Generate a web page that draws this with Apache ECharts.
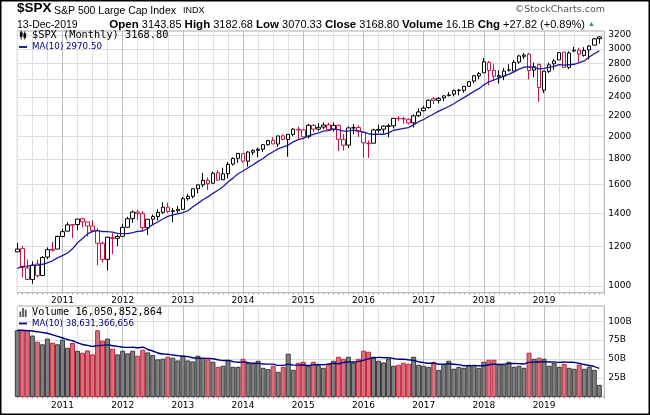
<!DOCTYPE html>
<html>
<head>
<meta charset="utf-8">
<title>$SPX monthly</title>
<script src="https://cdn.jsdelivr.net/npm/echarts@6.0.0/dist/echarts.min.js"></script>
<style>
  html, body { margin: 0; padding: 0; background: #fff; }
  #chart { width: 650px; height: 415px; }
</style>
</head>
<body>
<div id="chart"></div>
<script>
// monthly bars, Apr 2010 .. Dec 2019
var startYear = 2010, startMonth = 4;
var priorClose = 1169.43; // Mar 2010 close, used for the colour of the first bar

var opens = [
  1171.23, 1188.58, 1087.30, 1031.10, 1107.53, 1049.72, 1143.49, 1185.71, 1186.60,
  1257.62, 1289.14, 1328.64, 1329.48, 1365.21, 1345.20, 1320.64, 1292.59, 1219.12, 1131.21, 1251.00, 1246.91,
  1258.86, 1312.45, 1365.90, 1408.47, 1397.86, 1309.87, 1362.33, 1379.32, 1406.54, 1440.90, 1412.20, 1416.18,
  1426.19, 1498.11, 1514.68, 1569.18, 1597.55, 1631.71, 1609.78, 1689.42, 1635.95, 1682.41, 1758.70, 1806.55,
  1845.86, 1782.68, 1857.68, 1873.96, 1884.39, 1923.87, 1962.29, 1929.80, 2004.07, 1971.44, 2018.21, 2065.78,
  2058.90, 1996.67, 2105.23, 2067.63, 2087.38, 2108.64, 2067.00, 2104.49, 1970.09, 1919.65, 2080.76, 2082.93,
  2038.20, 1936.94, 1937.09, 2056.62, 2067.17, 2093.94, 2099.34, 2173.15, 2171.33, 2164.33, 2128.68, 2200.17,
  2251.57, 2285.59, 2380.13, 2362.34, 2388.50, 2415.65, 2431.39, 2477.10, 2474.42, 2521.20, 2583.21, 2645.10,
  2683.73, 2816.45, 2715.22, 2633.45, 2642.96, 2718.70, 2704.95, 2821.17, 2896.96, 2926.29, 2717.58, 2790.50,
  2476.96, 2702.32, 2798.22, 2848.63, 2952.33, 2751.53, 2971.41, 2980.32, 2909.01, 2983.69, 3050.72, 3143.85
];
var highs = [
  1219.80, 1205.13, 1131.23, 1120.95, 1129.24, 1148.90, 1196.14, 1227.08, 1262.60,
  1302.67, 1344.07, 1332.28, 1364.56, 1370.58, 1345.20, 1356.48, 1307.38, 1229.29, 1256.55, 1277.55, 1269.37,
  1333.47, 1378.04, 1419.15, 1422.38, 1415.32, 1363.46, 1391.74, 1426.68, 1474.51, 1470.96, 1434.27, 1448.00,
  1509.94, 1530.94, 1570.28, 1597.57, 1687.18, 1654.19, 1698.78, 1709.67, 1729.86, 1775.22, 1813.55, 1849.44,
  1850.84, 1867.92, 1883.97, 1897.28, 1924.03, 1968.17, 1991.39, 2005.04, 2019.26, 2018.19, 2075.76, 2093.55,
  2072.36, 2119.59, 2117.52, 2125.92, 2134.72, 2129.87, 2132.82, 2112.66, 2020.86, 2094.32, 2116.48, 2104.27,
  2038.20, 1962.96, 2072.21, 2111.05, 2103.48, 2120.55, 2177.09, 2193.81, 2187.87, 2169.60, 2214.10, 2277.53,
  2300.99, 2371.54, 2400.98, 2398.16, 2418.71, 2453.82, 2484.04, 2490.87, 2519.44, 2582.98, 2657.74, 2694.97,
  2872.87, 2835.96, 2801.90, 2717.49, 2742.24, 2791.47, 2848.03, 2916.50, 2940.91, 2939.86, 2815.15, 2800.18,
  2708.95, 2813.49, 2860.31, 2949.52, 2954.13, 2964.15, 3027.98, 3013.59, 3021.99, 3050.10, 3154.26, 3182.68
];
var lows = [
  1170.69, 1040.78, 1028.33, 1010.91, 1039.70, 1049.72, 1131.87, 1173.00, 1186.60,
  1257.62, 1289.14, 1249.05, 1294.70, 1311.80, 1258.07, 1282.86, 1101.54, 1114.22, 1074.77, 1158.66, 1202.37,
  1258.86, 1312.45, 1340.03, 1357.38, 1291.98, 1266.74, 1325.41, 1354.65, 1396.56, 1403.28, 1343.35, 1398.11,
  1426.19, 1485.01, 1501.48, 1536.03, 1581.28, 1560.33, 1604.57, 1627.47, 1633.41, 1646.47, 1746.20, 1767.99,
  1770.45, 1737.92, 1834.44, 1814.36, 1859.79, 1915.98, 1930.67, 1904.78, 1964.04, 1820.66, 2001.01, 1972.56,
  1988.12, 1980.90, 2039.69, 2048.38, 2067.93, 2056.32, 2044.02, 1867.01, 1871.91, 1893.70, 2019.39, 1993.26,
  1812.29, 1810.10, 1937.09, 2033.80, 2025.91, 1991.68, 2074.02, 2147.58, 2119.12, 2114.72, 2083.79, 2187.44,
  2245.13, 2271.65, 2322.25, 2328.95, 2352.72, 2405.70, 2407.70, 2417.35, 2446.55, 2520.40, 2557.45, 2605.52,
  2682.36, 2532.69, 2585.89, 2553.80, 2594.62, 2698.95, 2698.95, 2796.34, 2864.12, 2603.54, 2631.09, 2346.58,
  2443.96, 2681.83, 2722.27, 2848.63, 2750.52, 2728.81, 2952.22, 2822.12, 2891.85, 2855.94, 3050.72, 3070.33
];
var closes = [
  1186.69, 1089.41, 1030.71, 1101.60, 1049.33, 1141.20, 1183.26, 1180.55, 1257.64,
  1286.12, 1327.22, 1325.83, 1363.61, 1345.20, 1320.64, 1292.28, 1218.89, 1131.42, 1253.30, 1246.96, 1257.60,
  1312.41, 1365.68, 1408.47, 1397.91, 1310.33, 1362.16, 1379.32, 1406.58, 1440.67, 1412.16, 1416.18, 1426.19,
  1498.11, 1514.68, 1569.19, 1597.57, 1630.74, 1606.28, 1685.73, 1632.97, 1681.55, 1756.54, 1805.81, 1848.36,
  1782.59, 1859.45, 1872.34, 1883.95, 1923.57, 1960.23, 1930.67, 2003.37, 1972.29, 2018.05, 2067.56, 2058.90,
  1994.99, 2104.50, 2067.89, 2085.51, 2107.39, 2063.11, 2103.84, 1972.18, 1920.03, 2079.36, 2080.41, 2043.94,
  1940.24, 1932.23, 2059.74, 2065.30, 2096.95, 2098.86, 2173.60, 2170.95, 2168.27, 2126.15, 2198.81, 2238.83,
  2278.87, 2363.64, 2362.72, 2384.20, 2411.80, 2423.41, 2470.30, 2471.65, 2519.36, 2575.26, 2647.58, 2673.61,
  2823.81, 2713.83, 2640.87, 2648.05, 2705.27, 2718.37, 2816.29, 2901.52, 2913.98, 2711.74, 2760.17, 2506.85,
  2704.10, 2784.49, 2834.40, 2945.83, 2752.06, 2941.76, 2980.38, 2926.46, 2976.74, 3037.56, 3140.98, 3168.80
];
var priceMa = [
  1085, 1095, 1096, 1100, 1102, 1106, 1113, 1124, 1139,
  1151, 1165, 1188, 1222, 1246, 1273, 1288, 1292, 1287, 1286, 1283, 1276,
  1274, 1274, 1281, 1288, 1290, 1305, 1329, 1345, 1364, 1380, 1390, 1396,
  1405, 1417, 1443, 1466, 1491, 1511, 1536, 1558, 1584, 1618, 1648, 1682,
  1703, 1729, 1753, 1781, 1805, 1838, 1862, 1887, 1904, 1921, 1949, 1969,
  1981, 2004, 2018, 2031, 2048, 2054, 2067, 2063, 2048, 2050, 2058, 2052,
  2040, 2024, 2019, 2020, 2019, 2032, 2057, 2066, 2075, 2083, 2109, 2140,
  2162, 2192, 2218, 2247, 2271, 2296, 2326, 2361, 2393, 2426, 2463, 2494,
  2540, 2573, 2596, 2619, 2642, 2667, 2696, 2729, 2756, 2759, 2753, 2732,
  2739, 2752, 2765, 2788, 2782, 2786, 2792, 2814, 2835, 2888, 2932, 2971
];
// volume in billions
var volumes = [
  88, 88, 88, 81, 73, 69.5, 77, 71.7, 69.5,
  75.7, 65, 71.2, 61, 58.4, 61.5, 56.2, 88, 74.3, 77, 63.7, 56.2,
  61, 57.5, 61, 54.4, 62.4, 58.8, 55.3, 49.6, 50.5, 53.1, 51.8, 48.2,
  54.4, 48.2, 46.9, 54.4, 51.8, 49.6, 46.5, 39.8, 41.2, 49.1, 39.8, 39.8,
  50.4, 44.7, 44.7, 47.8, 38.5, 36.7, 41.2, 33.2, 39.8, 57.1, 35.8, 45.1,
  46.5, 40.7, 46.5, 42.0, 38.5, 43.4, 47.8, 53.1, 50.4, 53.1, 45.1, 50.4,
  61.1, 59.7, 53.1, 47.8, 45.6, 50.4, 41.2, 42.5, 45.1, 43.8, 53.1, 42.5,
  41.2, 39.8, 46.5, 35.8, 43.4, 47.8, 37.2, 39.8, 38.5, 42.5, 42.5, 38.5,
  46.5, 49.1, 49.1, 43.8, 42.9, 46.5, 39.8, 41.2, 38.5, 58.4, 50.4, 51.8,
  50.4, 41.2, 45.1, 39.8, 43.8, 38.5, 37.2, 42.5, 37.2, 39.8, 35.8, 16.05
];
var volumeMa = [
  88, 88, 87.5, 87, 86, 85, 84, 82, 80,
  78.1, 75.8, 74.2, 71.5, 69.2, 68.1, 66.7, 67.8, 68.1, 68.8, 67.6, 66.8,
  65.7, 65.4, 65.6, 64.9, 65.6, 62.6, 60.7, 58.0, 56.7, 56.4, 55.4, 54.5,
  53.9, 53.2, 51.7, 51.2, 50.9, 50.9, 50.5, 49.2, 48.1, 48.2, 46.7, 45.9,
  46.2, 45.3, 44.6, 44.4, 43.6, 43.3, 43.3, 41.7, 41.7, 43.4, 42.0, 42.0,
  42.2, 41.5, 42.3, 42.8, 42.5, 43.5, 44.3, 43.9, 45.4, 46.2, 46.1, 47.0,
  48.5, 50.3, 51.7, 52.2, 51.9, 51.7, 50.8, 49.7, 49.7, 49.0, 48.2, 46.5,
  45.3, 44.5, 44.6, 43.2, 43.4, 43.9, 43.1, 42.7, 41.3, 41.3, 41.4, 41.3,
  41.3, 42.6, 43.2, 42.8, 43.3, 44.0, 44.1, 44.0, 43.6, 45.6, 46.0, 46.2,
  46.4, 46.1, 46.3, 45.7, 46.1, 45.8, 45.7, 44.1, 42.8, 41.6, 40.1, 37.6
];

var priceTicks = [1000, 1200, 1400, 1600, 1800, 2000, 2200, 2400, 2600, 2800, 3000, 3200];
var volumeTicks = [25, 50, 75, 100];

var spxName = '$SPX (Monthly) 3168.80';
var maName = 'MA(10) 2970.50';
var volName = 'Volume 16,050,852,864';
var volMaName = 'MA(10) 38,631,366,656';

// month categories, plus one blank slot of padding on the right
var months = [];
for (var i = 0; i < closes.length; i++) {
  var m = startMonth - 1 + i;
  var mm = m % 12 + 1;
  months.push((startYear + Math.floor(m / 12)) + '-' + (mm < 10 ? '0' + mm : mm));
}
months.push('');

var RED = '#cc1040';

// hollow when close > open, red when close < previous close
var candleData = opens.map(function (o, i) {
  var prev = i ? closes[i - 1] : priorClose;
  var col = closes[i] >= prev ? '#000000' : RED;
  return {
    value: [o, closes[i], lows[i], highs[i]],
    itemStyle: { color: '#ffffff', color0: col, borderColor: col, borderColor0: col, opacity: 1 }
  };
});

var volData = volumes.map(function (v, i) {
  var prev = i ? closes[i - 1] : priorClose;
  var up = closes[i] >= prev;
  return {
    value: v,
    itemStyle: up ? { color: '#808080', borderColor: '#3a3a3a' }
                  : { color: '#d4727e', borderColor: '#c52a40' }
  };
});

function isQuarter(idx) {
  var s = months[idx];
  if (!s) return false;
  var mo = s.slice(5);
  return mo === '01' || mo === '04' || mo === '07' || mo === '10';
}
function isJan(idx) {
  var s = months[idx];
  return !!s && s.slice(5) === '01';
}

var axisFont = { fontFamily: 'DejaVu Sans', fontSize: 9, color: '#000' };
var sans = 'Liberation Sans';

function xAxisFor(gridIndex, margin) {
  return {
    type: 'category',
    gridIndex: gridIndex,
    data: months,
    boundaryGap: false,
    axisLine: { show: false },
    axisTick: { show: true, interval: 0, length: 2, lineStyle: { color: '#b5b5b5' } },
    axisLabel: Object.assign({
      interval: function (idx) { return isJan(idx); },
      formatter: function (v) { return v.slice(0, 4); },
      margin: margin
    }, axisFont),
    splitLine: {
      show: true,
      interval: function (idx) { return isQuarter(idx); },
      lineStyle: { color: ['#e2e2e2', '#e2e2e2', '#e2e2e2', '#bcbcbc'], width: 1 }
    }
  };
}

function plainTitle(text, pos, style) {
  return Object.assign({ text: text, padding: 0,
    textStyle: Object.assign({ fontFamily: sans, fontWeight: 'normal', color: '#000' }, style) }, pos);
}

var chart = echarts.init(document.getElementById('chart'), null, { renderer: 'canvas' });

var option = {
  animation: false,
  backgroundColor: '#fff',
  title: [
    plainTitle('$SPX', { left: 17, top: 1.5 }, { fontSize: 13.5, fontWeight: 'bold' }),
    plainTitle('S&P 500 Large Cap Index', { left: 54, top: 5.5 }, { fontSize: 10.5 }),
    plainTitle('INDX', { left: 183, top: 6.5 }, { fontSize: 9 }),
    plainTitle('\u00a9StockCharts.com', { right: 45, top: 5 }, { fontFamily: 'DejaVu Sans', fontSize: 9.5, color: '#555' }),
    plainTitle('13-Dec-2019', { left: 17, top: 19.5 }, { fontSize: 10.5 }),
    {
      right: 65, top: 18.5, padding: 0,
      text: '{k|Open} 3143.85 {k|High} 3182.68 {k|Low} 3070.33 {k|Close} 3168.80 {k|Volume} 16.1B {k|Chg} +27.82 (+0.89%)',
      textStyle: {
        fontFamily: sans, fontSize: 11, fontWeight: 'normal', color: '#000',
        rich: {
          k: { fontFamily: sans, fontSize: 11.5, fontWeight: 'bold', color: '#000' }
        }
      }
    },
    plainTitle('\u25b2', { left: 588, top: 21 }, { fontSize: 7, color: '#2e8b3a' })
  ],
  legend: [
    {
      left: 19, top: 29, orient: 'vertical', padding: 0,
      itemWidth: 8, itemHeight: 9, itemGap: 0,
      selectedMode: false,
      textStyle: { fontFamily: 'DejaVu Sans Mono', fontSize: 10.3, color: '#000', lineHeight: 12 },
      data: [
        { name: spxName, icon: 'path://M1,0h1v10h-1z M0,2h3v5h-3z M5,1h1v9h-1z M4,3h3v5h-3z', itemStyle: { color: '#000', borderWidth: 0 } },
        { name: maName, icon: 'path://M0,0h10v2.2h-10z', itemStyle: { color: '#000080', borderWidth: 0 },
          textStyle: { fontFamily: 'DejaVu Sans', fontSize: 8.7, color: '#000080' } }
      ]
    },
    {
      left: 19, top: 307, orient: 'vertical', padding: 0,
      itemWidth: 8, itemHeight: 9, itemGap: 0,
      selectedMode: false,
      textStyle: { fontFamily: 'DejaVu Sans Mono', fontSize: 10.3, color: '#000', lineHeight: 11 },
      data: [
        { name: volName, icon: 'path://M0,4h2v6h-2z M3,0h2v10h-2z M6,2h2v8h-2z', itemStyle: { color: '#555', borderWidth: 0 } },
        { name: volMaName, icon: 'path://M0,0h10v2.2h-10z', itemStyle: { color: '#000080', borderWidth: 0 },
          textStyle: { fontFamily: 'DejaVu Sans', fontSize: 8.6, color: '#000080' } }
      ]
    }
  ],
  grid: [
    { left: 17.3, right: 45.7, top: 31, bottom: 122.3, show: true, borderColor: '#a9a9a9', borderWidth: 1, backgroundColor: '#fff', outerBoundsMode: 'none' },
    { left: 17.3, right: 45.7, top: 306, bottom: 18, show: true, borderColor: '#a9a9a9', borderWidth: 1, backgroundColor: '#fff', outerBoundsMode: 'none' }
  ],
  xAxis: [xAxisFor(0, 3), xAxisFor(1, 4)],
  yAxis: [
    {
      type: 'log', gridIndex: 0, position: 'right', logBase: 10,
      min: 969.5, max: 3257,
      axisLine: { show: false },
      axisTick: { show: false, customValues: priceTicks },
      axisLabel: Object.assign({ customValues: priceTicks, margin: 4, formatter: function (v) { return String(Math.round(v)); } }, axisFont),
      splitLine: { show: true, lineStyle: { color: '#dedede', width: 1 } }
    },
    {
      type: 'value', gridIndex: 1, position: 'right',
      min: 0, max: 120,
      axisLine: { show: false },
      axisTick: { show: false, customValues: volumeTicks },
      axisLabel: Object.assign({ customValues: volumeTicks, margin: 4, formatter: function (v) { return v + 'B'; } }, axisFont),
      splitLine: { show: true, lineStyle: { color: '#dedede', width: 1 } }
    }
  ],
  series: [
    {
      name: spxName, type: 'candlestick', xAxisIndex: 0, yAxisIndex: 0,
      barWidth: 4,
      itemStyle: { borderWidth: 1, color: '#ffffff', color0: RED, borderColor: '#000000', borderColor0: RED, opacity: 1 },
      data: candleData
    },
    {
      name: maName, type: 'line', xAxisIndex: 0, yAxisIndex: 0,
      data: priceMa, symbol: 'none',
      lineStyle: { color: '#1c1ca0', width: 1.3 },
      itemStyle: { color: '#000080' }
    },
    {
      name: volName, type: 'bar', xAxisIndex: 1, yAxisIndex: 1,
      barWidth: 5,
      itemStyle: { borderWidth: 1 },
      data: volData
    },
    {
      name: volMaName, type: 'line', xAxisIndex: 1, yAxisIndex: 1,
      data: volumeMa, symbol: 'none', smooth: true,
      lineStyle: { color: '#000080', width: 1.4 },
      itemStyle: { color: '#000080' }
    }
  ],
  graphic: [
    {
      type: 'rect', silent: true, z: 100,
      shape: { x: 0.75, y: 0.75, width: 648.5, height: 413.5 },
      style: { fill: 'none', stroke: '#000', lineWidth: 1.5 }
    }
  ]
};

chart.setOption(option);
</script>
</body>
</html>
